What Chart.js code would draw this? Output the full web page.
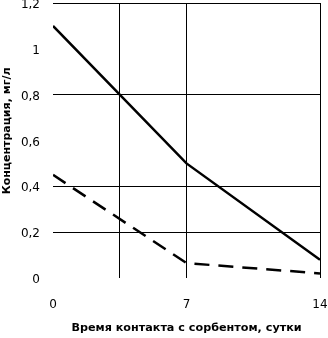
<!DOCTYPE html>
<html>
<head>
<meta charset="utf-8">
<script src="https://cdn.jsdelivr.net/npm/chart.js@4"></script>
<style>
  html, body { margin: 0; padding: 0; background: #fff; }
  #wrap { width: 328px; height: 338px; }
</style>
</head>
<body>
<div id="wrap"><canvas id="myChart"></canvas></div>
<script>
// days of contact with sorbent
const days = [0, 7, 14];
// concentration, mg/l
const solidSeries = [1.1, 0.5, 0.08];
const dashedSeries = [0.45, 0.065, 0.02];
const xTickLabels = ['0', '7', '14'];
const yGridValues = [0.2, 0.4, 0.8, 1.2];
const xGridValues = [3.5, 7, 14];

const toPoints = (vals) => days.map((d, i) => ({x: d, y: vals[i]}));

const ctx = document.getElementById('myChart').getContext('2d');
const config = {
    type: 'line',
    data: {
        datasets: [{
            label: 'solid',
            data: toPoints(solidSeries),
            borderColor: '#000',
            borderWidth: 2.5,
            pointRadius: 0,
            fill: false,
            tension: 0
        }, {
            label: 'dashed',
            data: toPoints(dashedSeries),
            borderColor: '#000',
            borderWidth: 2.5,
            borderDash: [15, 9],
            pointRadius: 0,
            fill: false,
            tension: 0
        }]
    },
    options: {
        responsive: true,
        maintainAspectRatio: false,
        animation: false,
        layout: { padding: { top: 3, right: 8, left: 0, bottom: 0 } },
        plugins: { legend: { display: false }, tooltip: { enabled: false } },
        scales: {
            x: {
                type: 'linear',
                min: 0, max: 14,
                border: { display: false },
                grid: {
                    drawTicks: false,
                    lineWidth: 1,
                    color: (c) => xGridValues.includes(c.tick && c.tick.value) ? '#000' : 'rgba(0,0,0,0)'
                },
                ticks: {
                    stepSize: 3.5,
                    autoSkip: false,
                    maxRotation: 0,
                    padding: 20,
                    color: '#000',
                    font: { family: 'DejaVu Sans', size: 12 },
                    callback: (v) => xTickLabels.includes(String(v)) ? String(v) : ''
                },
                title: {
                    display: true,
                    text: 'Время контакта с сорбентом, сутки',
                    color: '#000',
                    font: { family: 'DejaVu Sans', size: 11.2, weight: 'bold' },
                    padding: { top: 0, bottom: 3 }
                },
                afterFit: (s) => { s.height = 60; s.paddingLeft = 0; s.paddingRight = 0; }
            },
            y: {
                min: 0, max: 1.2,
                border: { display: false },
                grid: {
                    drawTicks: false,
                    lineWidth: 1,
                    color: (c) => yGridValues.includes(Math.round(c.tick.value * 10) / 10) ? '#000' : 'rgba(0,0,0,0)'
                },
                ticks: {
                    stepSize: 0.2,
                    padding: 13,
                    labelOffset: 2,
                    color: '#000',
                    font: { family: 'DejaVu Sans', size: 12 },
                    callback: (v) => String(Math.round(v * 10) / 10).replace('.', ',')
                },
                title: {
                    display: true,
                    text: '     Концентрация, мг/л',
                    color: '#000',
                    font: { family: 'DejaVu Sans', size: 11, weight: 'bold' },
                    padding: { top: 1, bottom: 0 }
                },
                afterFit: (s) => { s.width = 53; s.paddingTop = 0; s.paddingBottom = 0; }
            }
        }
    }
};
const myChart = new Chart(ctx, config);
</script>
</body>
</html>
